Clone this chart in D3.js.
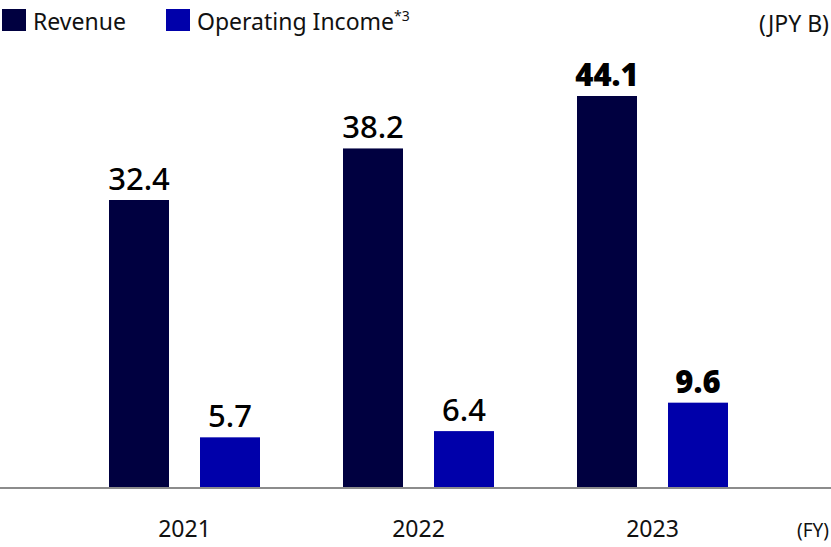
<!DOCTYPE html>
<html>
<head>
<meta charset="utf-8">
<script src="https://cdn.jsdelivr.net/npm/d3@7"></script>
<style>
    body { margin: 0; background: #fff; }
    svg { display: block; font-family: "Noto Sans", sans-serif; }
</style>
</head>
<body>
<svg width="831" height="547"></svg>
<script>
const years = ["2021", "2022", "2023"];
const seriesNames = ["Revenue", "Operating Income"];
const revenue = [32.4, 38.2, 44.1];
const operatingIncome = [5.7, 6.4, 9.6];
const highlightYear = "2023";

const colors = ["#000040", "#0000aa"];
const baseline = 488;

const svg = d3.select("svg");
const width = +svg.attr("width");

const x = d3.scaleBand(years, [67.5, 769.5])
    .paddingInner(83 / 234)
    .paddingOuter(83 / 468);
const xSub = d3.scaleBand(seriesNames, [0, x.bandwidth()])
    .paddingInner(2 - x.bandwidth() / 91);
const y = d3.scaleLinear([0, 54.9], [baseline, 0]);

const rows = years.map((year, i) => ({
    year,
    values: [
        { name: seriesNames[0], value: revenue[i], color: colors[0] },
        { name: seriesNames[1], value: operatingIncome[i], color: colors[1] }
    ]
}));

// bars and value labels
const groups = svg.selectAll(".year")
    .data(rows)
    .join("g")
    .attr("class", "year")
    .attr("transform", d => `translate(${x(d.year)},0)`);

groups.selectAll("rect")
    .data(d => d.values)
    .join("rect")
    .attr("x", d => xSub(d.name))
    .attr("width", xSub.bandwidth())
    .attr("y", d => y(d.value))
    .attr("height", d => baseline - y(d.value))
    .attr("fill", d => d.color);

groups.selectAll("text")
    .data(d => d.values.map(v => ({ ...v, year: d.year })))
    .join("text")
    .attr("x", d => xSub(d.name) + xSub.bandwidth() / 2)
    .attr("y", d => y(d.value) - 10)
    .attr("text-anchor", "middle")
    .style("font-size", "31px")
    .style("font-weight", d => d.year === highlightYear ? 900 : 500)
    .attr("fill", "#000")
    .text(d => d.value.toFixed(1));

// axis
const axis = d3.axisBottom(x).tickSize(0).tickPadding(32);
const axisG = svg.append("g")
    .attr("transform", `translate(0,${baseline})`)
    .call(axis);
axisG.select(".domain").remove();
axisG.selectAll("text")
    .attr("dy", 0)
    .style("font-family", "Noto Sans, sans-serif")
    .style("font-size", "23px")
    .attr("fill", "#111")
    .attr("y", 49);
svg.append("line")
    .attr("x1", 0).attr("x2", width)
    .attr("y1", baseline).attr("y2", baseline)
    .attr("stroke", "#8c8c8c")
    .attr("stroke-width", 2);

svg.append("text")
    .attr("x", 829).attr("y", 537)
    .attr("text-anchor", "end")
    .style("font-size", "19px")
    .attr("fill", "#111")
    .text("(FY)");

svg.append("text")
    .attr("x", 829).attr("y", 32)
    .attr("text-anchor", "end")
    .style("font-size", "23px")
    .attr("fill", "#111")
    .text("(JPY B)");

// legend
const legendX = [2, 166];
const legend = svg.selectAll(".legend")
    .data(seriesNames)
    .join("g")
    .attr("class", "legend")
    .attr("transform", (d, i) => `translate(${legendX[i]},0)`);
legend.append("rect")
    .attr("x", 0).attr("y", 9)
    .attr("width", 24).attr("height", 22)
    .attr("fill", (d, i) => colors[i]);
legend.append("text")
    .attr("x", 31).attr("y", 30)
    .style("font-size", "23px")
    .attr("fill", "#111")
    .text(d => d)
    .filter((d, i) => i === 1)
    .append("tspan")
    .attr("dy", -9)
    .style("font-size", "14px")
    .text("*3");
</script>
</body>
</html>
